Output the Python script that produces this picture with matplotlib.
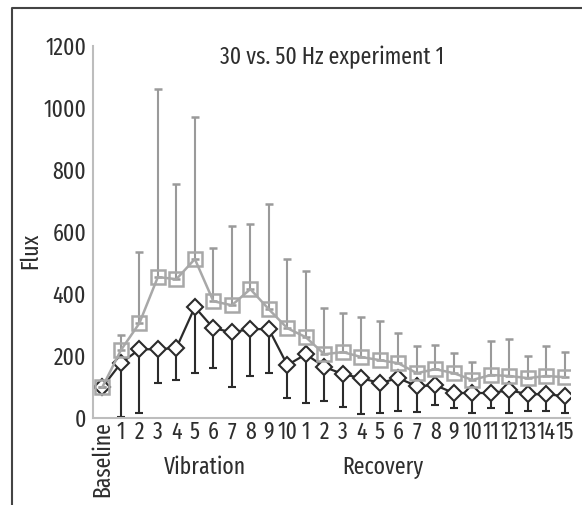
import matplotlib.pyplot as plt
import numpy as np

plt.rcParams['font.family'] = ['Fira Sans Extra Condensed', 'PT Sans Narrow', 'DejaVu Sans']

labels = ['Baseline'] + [str(i) for i in range(1, 11)] + [str(i) for i in range(1, 16)]

# 50 Hz (gray squares), upper error bars only
hz50 = [100, 219, 306, 455, 448, 513, 377, 364, 416, 351, 290,
        261, 206, 213, 197, 187, 177, 145, 158, 145, 123, 139, 136, 129, 136, 132]
hz50_top = [100, 268, 535, 1062, 755, 971, 548, 619, 626, 690, 513,
            474, 355, 339, 326, 313, 274, 232, 235, 210, 181, 248, 255, 200, 232, 213]

# 30 Hz (black diamonds), lower error bars only
hz30 = [100, 177, 222, 222, 226, 358, 290, 277, 287, 287, 171,
        206, 165, 142, 129, 113, 129, 103, 106, 81, 81, 81, 90, 77, 77, 71]
hz30_low = [100, 3, 16, 113, 123, 145, 161, 100, 135, 145, 65,
            48, 56, 35, 13, 16, 23, 19, 42, 32, 16, 32, 16, 23, 23, 16]

x = np.arange(len(labels))
hz50 = np.array(hz50)
hz30 = np.array(hz30)
up = np.array(hz50_top) - hz50
down = hz30 - np.array(hz30_low)

fs = 17
txtc = '#2e2e2e'

fig = plt.figure(figsize=(5.82, 5.05), dpi=100)
ax = fig.add_axes([0.160, 0.172, 0.820, 0.737])

ax.errorbar(x, hz30, yerr=[down, np.zeros_like(down)], color='#2b2b2b', lw=1.6,
            marker='D', ms=8.5, mfc='white', mec='#2b2b2b', mew=1.5,
            ecolor='#2b2b2b', elinewidth=1.5, capsize=3, capthick=1.5, zorder=2)
ax.errorbar(x, hz50, yerr=[np.zeros_like(up), up], color='#a8a8a8', lw=1.8,
            marker='s', ms=10, mfc='none', mec='#a8a8a8', mew=1.8,
            ecolor='#9a9a9a', elinewidth=1.5, capsize=3, capthick=1.5, zorder=3)

ax.set_ylim(0, 1200)
ax.set_xlim(-0.5, 25.3)
ax.set_yticks(range(0, 1201, 200))
ax.set_xticks(x)
ax.set_xticklabels(labels, fontsize=fs, color=txtc)
ax.get_xticklabels()[0].set_rotation(90)
ax.tick_params(axis='y', labelsize=fs, labelcolor=txtc, length=0, pad=5)
ax.tick_params(axis='x', length=0, pad=2)
for s in ['top', 'right']:
    ax.spines[s].set_visible(False)
for s in ['left', 'bottom']:
    ax.spines[s].set_color('#bdbdbd')
    ax.spines[s].set_linewidth(1.5)

ax.set_ylabel('Flux', fontsize=fs, color=txtc)
ax.yaxis.set_label_coords(-0.107, 0.45)
ax.text(0.5, 1.0, '30 vs. 50 Hz experiment 1', transform=ax.transAxes,
        ha='center', va='top', fontsize=fs, color=txtc)
fig.text(205 / 582, 1 - 467 / 505, 'Vibration', ha='center', va='center', fontsize=fs, color=txtc)
fig.text(383 / 582, 1 - 467 / 505, 'Recovery', ha='center', va='center', fontsize=fs, color=txtc)

# page frame (top and left edges)
fig.add_artist(plt.Line2D([12 / 582, 12 / 582, 1], [0, 1 - 8 / 505, 1 - 8 / 505],
                          transform=fig.transFigure, color='#444444', lw=1.5))

fig.savefig('out.png', dpi=100)
